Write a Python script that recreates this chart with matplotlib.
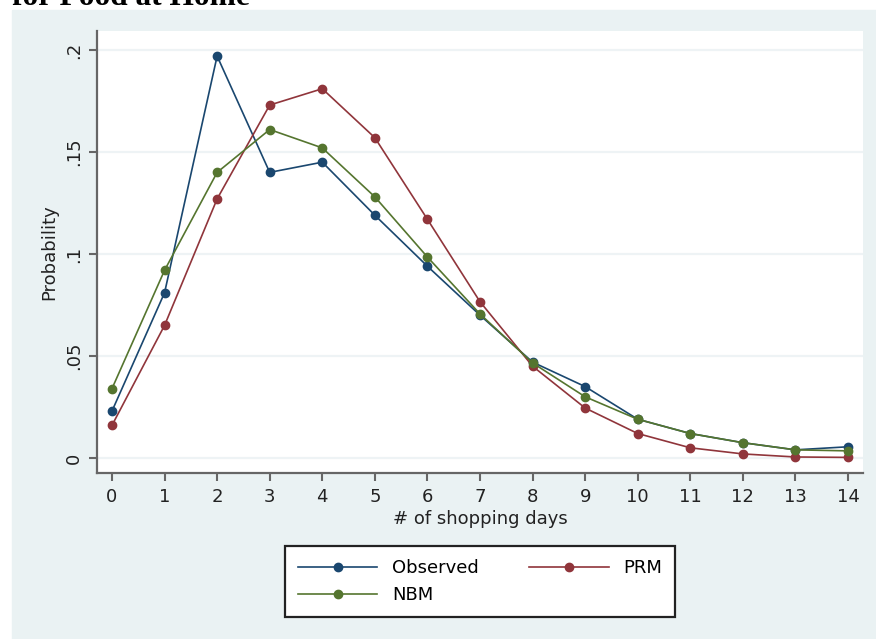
import matplotlib.pyplot as plt
from matplotlib.patches import Rectangle
import numpy as np

days = np.arange(0, 15)
observed = [0.023, 0.081, 0.197, 0.140, 0.145, 0.119, 0.094, 0.070, 0.047,
            0.035, 0.019, 0.012, 0.0075, 0.004, 0.0055]
prm = [0.016, 0.065, 0.127, 0.173, 0.181, 0.157, 0.117, 0.0766, 0.045,
       0.0245, 0.012, 0.005, 0.002, 0.0005, 0.0003]
nbm = [0.034, 0.092, 0.140, 0.161, 0.152, 0.128, 0.0985, 0.0706, 0.0466,
       0.030, 0.019, 0.012, 0.0075, 0.004, 0.0035]
yticks = [0, 0.05, 0.1, 0.15, 0.2]
ytick_labels = ["0", ".05", ".1", ".15", ".2"]

W, H = 876, 639
fig = plt.figure(figsize=(W / 100, H / 100), dpi=100)
fig.patch.set_facecolor("white")

# stata style grey-blue graph region, kept behind the axes
fig.patches.append(Rectangle((12 / W, 0), 1 - 12 / W, 1 - 10 / H,
                             transform=fig.transFigure, color="#eaf2f3", zorder=-10))

# title, cut off at the very top as in the source image
fig.text(12 / W, 1 - 5 / H, "for Food at Home", fontsize=22.6,
         family="Liberation Serif", weight="bold", va="baseline", ha="left")

ax = fig.add_axes([97 / W, 1 - 473 / H, (863 - 97) / W, (473 - 31) / H])
ax.set_facecolor("white")
ax.set_zorder(1)

navy = "#1a476f"
maroon = "#90353b"
green = "#55752f"

style = dict(marker="o", markersize=6, linewidth=1.2, clip_on=False, zorder=3)
l1, = ax.plot(days, observed, color=navy, label="Observed", **style)
l2, = ax.plot(days, prm, color=maroon, label="PRM", **style)
l3, = ax.plot(days, nbm, color=green, label="NBM", **style)

ax.set_xlim(-0.285, 14.285)
ax.set_ylim(-0.00735, 0.2093)
ax.set_xticks(days)
ax.set_yticks(yticks)
ax.set_yticklabels(ytick_labels, rotation=90, va="center")

for v in yticks:
    ax.axhline(v, color="#eef3f5", linewidth=1.6, zorder=1)

for s in ["top", "right"]:
    ax.spines[s].set_visible(False)
for s in ["left", "bottom"]:
    ax.spines[s].set_color("#666666")
    ax.spines[s].set_linewidth(1.6)

ax.tick_params(axis="both", length=6, width=1.5, color="#666666",
               labelsize=13, labelcolor="#222222")
ax.tick_params(axis="x", pad=5)
ax.tick_params(axis="y", pad=4)

ax.set_xlabel("# of shopping days", fontsize=13, color="#222222", labelpad=3)
ax.set_ylabel("Probability", fontsize=13, color="#222222")
ax.yaxis.set_label_coords(-0.05, 0.5)

leg = fig.legend([l1, l3, l2], ["Observed", "NBM", "PRM"], ncol=2,
                 loc="center", bbox_to_anchor=(480 / W, 1 - 581.5 / H),
                 fontsize=13, frameon=True, fancybox=False, framealpha=1,
                 handlelength=4.4, handletextpad=0.8, columnspacing=2.8,
                 labelspacing=0.5, borderpad=0.7)
leg.get_frame().set_edgecolor("#222222")
leg.get_frame().set_linewidth(1.6)
leg.get_frame().set_facecolor("white")

fig.savefig("out.png", dpi=100)
